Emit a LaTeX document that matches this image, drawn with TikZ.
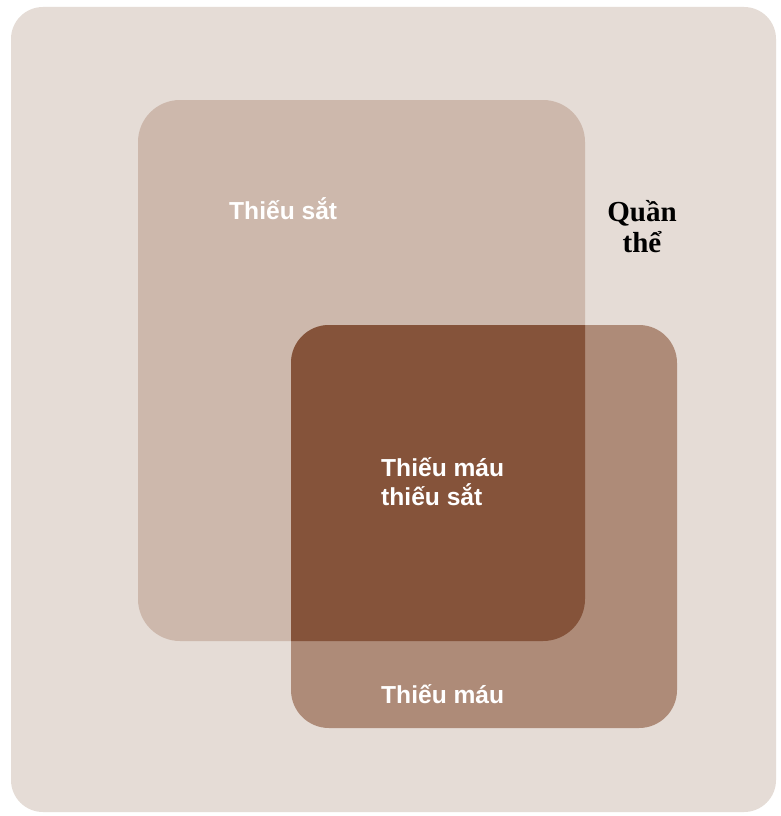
\documentclass[tikz,border=0pt]{standalone}
\usepackage{fontspec}
\setmainfont{Liberation Sans}
\newfontfamily\serifvn{Liberation Serif}
\definecolor{bgpanel}{HTML}{E5DCD6}
\definecolor{ironbox}{HTML}{CDB8AC}
\definecolor{anemiabox}{HTML}{AE8B78}
\definecolor{overlapbox}{HTML}{85533A}
\tikzset{
  setlabel/.style={text=white, font=\bfseries\fontsize{24.6}{29}\selectfont, inner sep=0pt},
  poplabel/.style={text=black, font=\serifvn\bfseries\fontsize{29}{31}\selectfont, inner sep=0pt, align=center}
}
\begin{document}
\begin{tikzpicture}[x=1pt,y=-1pt]
  \useasboundingbox (0,0) rectangle (781,816);
  \fill[white] (0,0) rectangle (781,816);
  % population panel
  \fill[bgpanel, rounded corners=32pt] (11,7) rectangle (776,812);
  % iron deficiency set
  \fill[ironbox, rounded corners=42pt] (138,100) rectangle (585,641);
  % anemia set
  \fill[anemiabox, rounded corners=38pt] (291,325) rectangle (677,728);
  % overlap of the two sets
  \begin{scope}
    \clip[rounded corners=42pt] (138,100) rectangle (585,641);
    \fill[overlapbox, rounded corners=38pt] (291,325) rectangle (677,728);
  \end{scope}
  % labels
  \node[setlabel, anchor=base west] (iron) at (229,219) {Thiếu sắt};
  \node[setlabel, anchor=base west, align=left] (ida) at (381,505) {Thiếu máu\\thiếu sắt};
  \node[setlabel, anchor=base west] (anemia) at (381,703) {Thiếu máu};
  \node[poplabel, anchor=base] (pop) at (642,252) {Quần\\thể};
\end{tikzpicture}
\end{document}
